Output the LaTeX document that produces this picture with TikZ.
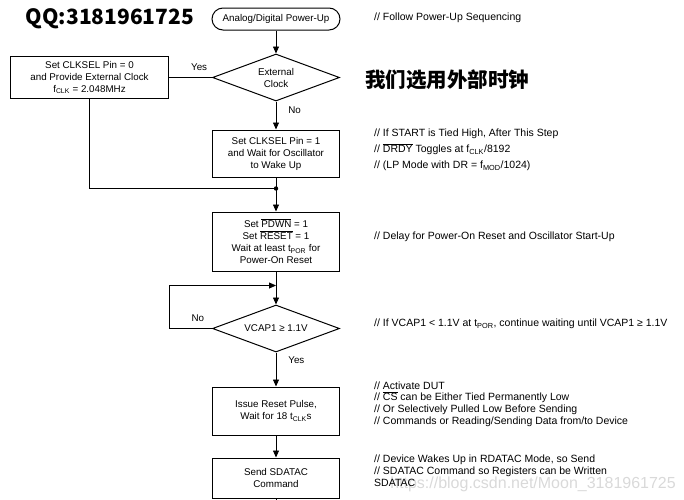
\documentclass[tikz,border=0pt]{standalone}
\usepackage{fontspec}
\setmainfont{Liberation Sans}
\newfontfamily\cjk{Noto Sans CJK SC}
\usetikzlibrary{positioning, arrows.meta, shapes.geometric}
\newcommand{\ovl}[1]{$\overline{\mbox{#1}}$}

\begin{document}
\begin{tikzpicture}[x=1pt, y=-1pt,
  >={Triangle[length=7pt, width=6pt]},
  every node/.style={font=\fontsize{9.8}{12}\selectfont, align=center, inner sep=0pt},
  box/.style={draw, line width=1pt, minimum width=127pt, minimum height=#1},
  box/.default=47pt,
  decide/.style={draw, diamond, aspect=2.7, line width=1pt, minimum width=127pt, minimum height=47pt},
  term/.style={draw, rounded corners=11pt, line width=1pt, minimum width=128pt, minimum height=22pt},
  note/.style={anchor=west, align=left, font=\fontsize{10.5}{12}\selectfont},
  line/.style={line width=0.8pt},
]
\useasboundingbox (0,0) rectangle (684,499);

% Main column
\node[term] (start) at (276,19) {Analog/Digital Power-Up};
\node[decide, below=23pt of start] (extclk) {External\\Clock};
\node[box=42pt, left=43pt of extclk, minimum width=158pt] (setzero)
  {Set CLKSEL Pin = 0\\and Provide External Clock\\f\textsubscript{CLK} = 2.048MHz};
\node[box, below=28pt of extclk] (setone)
  {Set CLKSEL Pin = 1\\and Wait for Oscillator\\to Wake Up};
\coordinate[below=11pt of setone] (join);
\node[box=59pt, below=34pt of setone] (powerup)
  {Set \ovl{PDWN} = 1\\Set \ovl{RESET} = 1\\Wait at least t\textsubscript{POR} for\\Power-On Reset};
\coordinate[below=14pt of powerup] (merge);
\node[decide, below=33pt of powerup] (vcap) {VCAP1 ≥ 1.1V};
\node[box=48pt, below=34pt of vcap] (rst) {Issue Reset Pulse,\\Wait for 18 t\textsubscript{CLK}s};
\node[box=40pt, below=22pt of rst] (sdatac) {Send SDATAC\\Command};
\coordinate (more) at (276,499);

% Edges
\draw[line, ->] (start) -- (extclk);
\draw[line] (extclk) -- node[pos=0.3, above=7pt] {Yes} (setzero);
\draw[line, ->] (extclk) -- node[pos=0.3, right=12pt] {No} (setone);
\draw[line] (setzero.south) |- (join);
\draw[line] (setone) -- (join);
\fill (join) circle (2.2pt);
\draw[line, ->] (join) -- (powerup);
\draw[line, ->] (powerup) -- (vcap);
\draw[line, ->] (vcap.west) -- node[pos=0.33, above=7pt] {No} ++(-43,0) |- (merge);
\draw[line, ->] (vcap) -- node[pos=0.24, right=12pt] {Yes} (rst);
\draw[line, ->] (rst) -- (sdatac);
\draw[line] (sdatac) -- (more);

% Headings
\node[font={\cjk\bfseries\fontsize{21}{24}\selectfont}] (qq) at (110,19) {QQ:3181961725};
\node[font={\cjk\bfseries\fontsize{20.5}{24}\selectfont}] (pick) at (447,80) {我们选用外部时钟};

% Watermark
\node[anchor=east, text=gray!30, font=\fontsize{16}{16}\selectfont] (mark) at (676,484)
  {https://blog.csdn.net/Moon\_3181961725};

% Comments
\node[note] (n1) at (374,18) {// Follow Power-Up Sequencing};
\node[note, font=\fontsize{10.5}{16}\selectfont] (n2) at (374,150)
  {// If START is Tied High, After This Step\\// \ovl{DRDY} Toggles at f\textsubscript{CLK}/8192\\// (LP Mode with DR = f\textsubscript{MOD}/1024)};
\node[note] (n3) at (374,237) {// Delay for Power-On Reset and Oscillator Start-Up};
\node[note] (n4) at (374,324) {// If VCAP1 < 1.1V at t\textsubscript{POR}, continue waiting until VCAP1 ≥ 1.1V};
\node[note, font=\fontsize{10.5}{11.7}\selectfont] (n5) at (374,404)
  {// Activate DUT\\// \ovl{CS} can be Either Tied Permanently Low\\// Or Selectively Pulled Low Before Sending\\// Commands or Reading/Sending Data from/to Device};
\node[note] (n6) at (374,471)
  {// Device Wakes Up in RDATAC Mode, so Send\\// SDATAC Command so Registers can be Written\\SDATAC};
\end{tikzpicture}
\end{document}
